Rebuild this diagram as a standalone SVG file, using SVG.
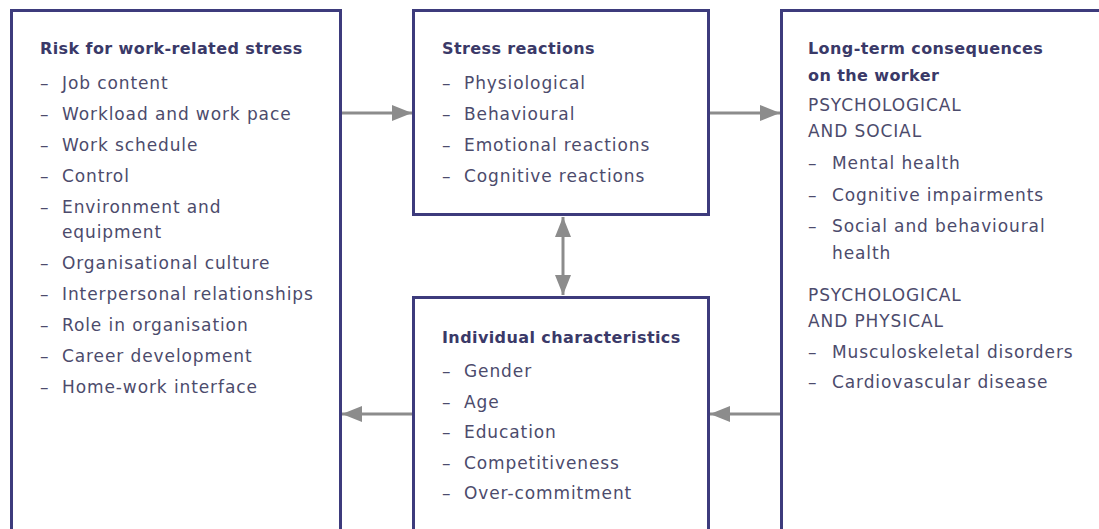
<svg xmlns="http://www.w3.org/2000/svg" width="1099" height="529" viewBox="0 0 1099 529">
<style>
.box{fill:#fff;stroke:#3d3b7c;stroke-width:3}
.t{font-family:"DejaVu Sans",sans-serif;font-weight:bold;font-size:16px;letter-spacing:0.4px;fill:#3a3968}
.i{font-family:"DejaVu Sans",sans-serif;font-size:17px;letter-spacing:0.9px;fill:#4c4b6c}
.c{stroke:#8c8c8c;stroke-width:3;fill:none}
</style>
<defs>
<marker id="ah" markerUnits="userSpaceOnUse" markerWidth="22" markerHeight="16" refX="20" refY="8" orient="auto-start-reverse">
<path d="M0,0 L20,8 L0,16 Z" fill="#8c8c8c"/>
</marker>
</defs>
<rect width="1099" height="529" fill="#fff"/>
<g id="risk">
<rect class="box" x="11.5" y="10.5" width="329" height="600"/>
<text class="t" x="40" y="54">Risk for work-related stress</text>
<text class="i" y="89"><tspan x="40">–</tspan><tspan x="62">Job content</tspan></text>
<text class="i" y="120"><tspan x="40">–</tspan><tspan x="62">Workload and work pace</tspan></text>
<text class="i" y="151"><tspan x="40">–</tspan><tspan x="62">Work schedule</tspan></text>
<text class="i" y="182"><tspan x="40">–</tspan><tspan x="62">Control</tspan></text>
<text class="i" y="213"><tspan x="40">–</tspan><tspan x="62">Environment and</tspan></text>
<text class="i" x="62" y="238">equipment</text>
<text class="i" y="269"><tspan x="40">–</tspan><tspan x="62">Organisational culture</tspan></text>
<text class="i" y="300"><tspan x="40">–</tspan><tspan x="62">Interpersonal relationships</tspan></text>
<text class="i" y="331"><tspan x="40">–</tspan><tspan x="62">Role in organisation</tspan></text>
<text class="i" y="362"><tspan x="40">–</tspan><tspan x="62">Career development</tspan></text>
<text class="i" y="393"><tspan x="40">–</tspan><tspan x="62">Home-work interface</tspan></text>
</g>
<g id="reactions">
<rect class="box" x="413.5" y="10.5" width="295" height="204"/>
<text class="t" x="442" y="54">Stress reactions</text>
<text class="i" y="89"><tspan x="442">–</tspan><tspan x="464">Physiological</tspan></text>
<text class="i" y="120"><tspan x="442">–</tspan><tspan x="464">Behavioural</tspan></text>
<text class="i" y="151"><tspan x="442">–</tspan><tspan x="464">Emotional reactions</tspan></text>
<text class="i" y="182"><tspan x="442">–</tspan><tspan x="464">Cognitive reactions</tspan></text>
</g>
<g id="individual">
<rect class="box" x="413.5" y="297.5" width="295" height="300"/>
<text class="t" x="442" y="343">Individual characteristics</text>
<text class="i" y="377"><tspan x="442">–</tspan><tspan x="464">Gender</tspan></text>
<text class="i" y="408"><tspan x="442">–</tspan><tspan x="464">Age</tspan></text>
<text class="i" y="438"><tspan x="442">–</tspan><tspan x="464">Education</tspan></text>
<text class="i" y="469"><tspan x="442">–</tspan><tspan x="464">Competitiveness</tspan></text>
<text class="i" y="499"><tspan x="442">–</tspan><tspan x="464">Over-commitment</tspan></text>
</g>
<g id="consequences">
<rect class="box" x="781.5" y="10.5" width="400" height="600"/>
<text class="t" x="808" y="54">Long-term consequences</text>
<text class="t" x="808" y="81">on the worker</text>
<text class="i" x="808" y="111">PSYCHOLOGICAL</text>
<text class="i" x="808" y="137">AND SOCIAL</text>
<text class="i" y="169"><tspan x="808">–</tspan><tspan x="832">Mental health</tspan></text>
<text class="i" y="201"><tspan x="808">–</tspan><tspan x="832">Cognitive impairments</tspan></text>
<text class="i" y="232"><tspan x="808">–</tspan><tspan x="832">Social and behavioural</tspan></text>
<text class="i" x="832" y="259">health</text>
<text class="i" x="808" y="301">PSYCHOLOGICAL</text>
<text class="i" x="808" y="327">AND PHYSICAL</text>
<text class="i" y="358"><tspan x="808">–</tspan><tspan x="832">Musculoskeletal disorders</tspan></text>
<text class="i" y="388"><tspan x="808">–</tspan><tspan x="832">Cardiovascular disease</tspan></text>
</g>
<g id="connectors">
<line class="c" x1="342" y1="113" x2="412" y2="113" marker-end="url(#ah)"/>
<line class="c" x1="710" y1="113" x2="780" y2="113" marker-end="url(#ah)"/>
<line class="c" x1="563" y1="217" x2="563" y2="295" marker-start="url(#ah)" marker-end="url(#ah)"/>
<line class="c" x1="412" y1="414" x2="342" y2="414" marker-end="url(#ah)"/>
<line class="c" x1="780" y1="414" x2="710" y2="414" marker-end="url(#ah)"/>
</g>
</svg>
